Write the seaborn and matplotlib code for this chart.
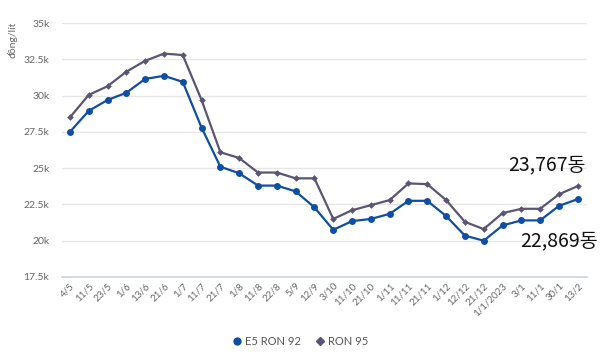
import matplotlib
matplotlib.use("Agg")
import matplotlib.pyplot as plt
import seaborn as sns
import pandas as pd
import numpy as np

dates = ["4/5", "11/5", "23/5", "1/6", "13/6", "21/6", "1/7", "11/7", "21/7", "1/8",
         "11/8", "22/8", "5/9", "12/9", "3/10", "11/10", "21/10", "1/11", "11/11", "21/11",
         "1/12", "12/12", "21/12", "1/1/2023", "3/1", "11/1", "30/1", "13/2"]
e5_ron92 = [27500, 28950, 29700, 30200, 31150, 31370, 30950, 27800, 25100, 24650,
            23800, 23800, 23400, 22300, 20750, 21350, 21500, 21850, 22750, 22750,
            21700, 20350, 20000, 21050, 21400, 21400, 22400, 22869]
ron95 = [28500, 30050, 30650, 31650, 32400, 32900, 32800, 29700, 26100, 25700,
         24700, 24700, 24300, 24300, 21500, 22100, 22450, 22800, 23950, 23900,
         22800, 21300, 20800, 21900, 22200, 22200, 23200, 23767]
series_names = ["E5 RON 92", "RON 95"]
yticks = [17500, 20000, 22500, 25000, 27500, 30000, 32500, 35000]
ytick_labels = ["17.5k", "20k", "22.5k", "25k", "27.5k", "30k", "32.5k", "35k"]

sns.set_theme(style="white")
plt.rcParams['font.family'] = ['Lato', 'DejaVu Sans']

df = pd.DataFrame({
    "idx": list(range(len(dates))) * 2,
    "price": e5_ron92 + ron95,
    "series": [series_names[0]] * len(dates) + [series_names[1]] * len(dates),
})

colors = {series_names[0]: "#0f4ea3", series_names[1]: "#5a5476"}

fig = plt.figure(figsize=(6.0, 3.56), dpi=100)
ax = fig.add_axes([0.103, 0.222, 0.875, 0.713])

sns.lineplot(data=df, x="idx", y="price", hue="series", style="series",
             palette=colors, markers={series_names[0]: "o", series_names[1]: "D"},
             dashes=False, linewidth=1.6, markersize=5, markeredgewidth=0,
             ax=ax, legend=False)
for line in ax.lines:
    if line.get_marker() == "D":
        line.set_markersize(3.4)

ax.set_xlim(-0.43, 27.48)
ax.set_ylim(17500, 35000)
ax.set_yticks(yticks)
ax.set_yticklabels(ytick_labels)
ax.set_xticks(range(len(dates)))
ax.set_xticklabels(dates, rotation=45, ha="right", rotation_mode="anchor")
ax.tick_params(axis="y", labelsize=7.5, colors="#666666", length=0, pad=9)
ax.tick_params(axis="x", labelsize=7, colors="#666666", length=0, pad=3)
ax.grid(axis="y", color="#e6e6e6", linewidth=1)
ax.set_axisbelow(True)
for s in ax.spines.values():
    s.set_visible(False)
ax.spines["bottom"].set_visible(True)
ax.spines["bottom"].set_color("#ccd6eb")
ax.set_xlabel("")
ax.set_ylabel("")
fig.text(0.02, 0.94, "đồng/lít", rotation=90, ha="center", va="top",
         fontsize=7.5, color="#666666")

ann_font = ['Liberation Sans Narrow', 'Noto Sans CJK KR']
ax.annotate("23,767동", xy=(len(dates) - 1, ron95[-1]), xytext=(-31, 21),
            textcoords="offset pixels", ha="center", va="center",
            fontsize=14, color="#111111", family=ann_font)
ax.annotate("22,869동", xy=(len(dates) - 1, e5_ron92[-1]), xytext=(-19, -42),
            textcoords="offset pixels", ha="center", va="center",
            fontsize=14, color="#111111", family=ann_font)

from matplotlib.lines import Line2D
handles = [Line2D([], [], linestyle="none", marker="o", color=colors[series_names[0]], markersize=5),
           Line2D([], [], linestyle="none", marker="D", color=colors[series_names[1]], markersize=4)]
fig.legend(handles, series_names, loc="center", bbox_to_anchor=(0.5, 0.042), ncol=2,
           frameon=False, fontsize=8, labelcolor="#555555", handletextpad=0.2,
           columnspacing=1.2, handlelength=1.0)

fig.savefig("out.png", dpi=100)
